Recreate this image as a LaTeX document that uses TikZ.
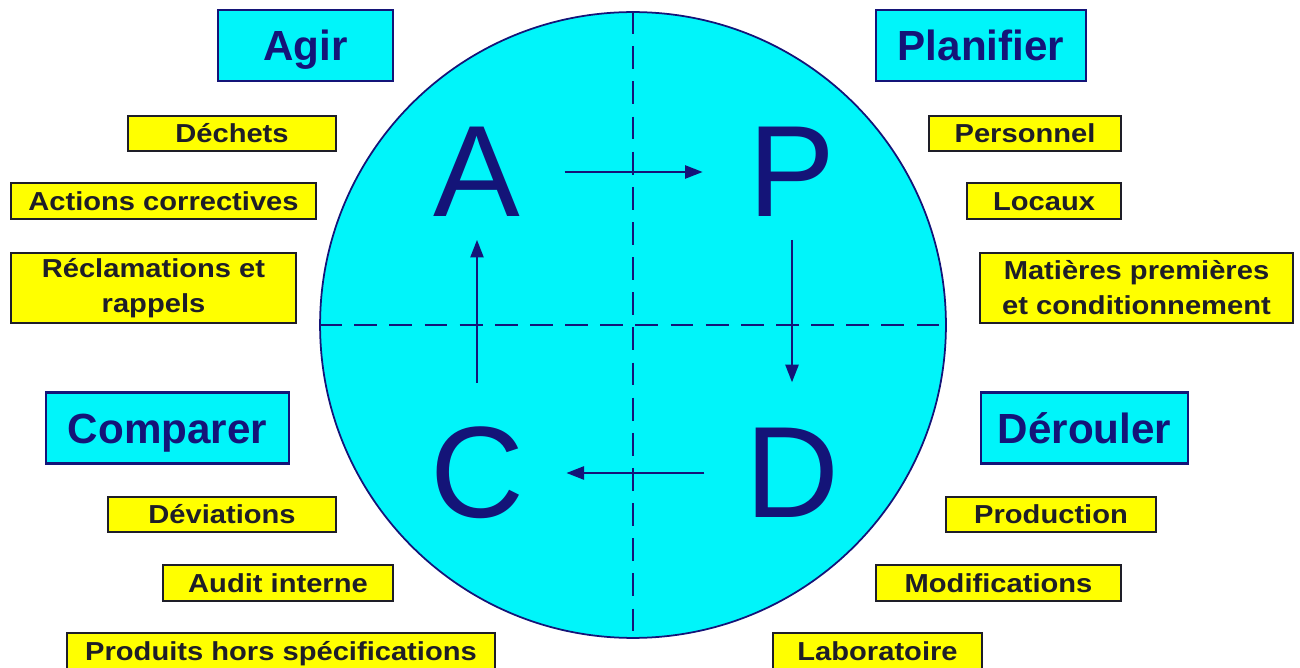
\documentclass[tikz,border=0pt]{standalone}
\usepackage{fontspec}
\setmainfont{Liberation Sans}
\newfontfamily\boxfont[FakeStretch=1.12]{Liberation Sans}
\usetikzlibrary{arrows.meta}

\definecolor{navy}{RGB}{20,20,120}
\definecolor{ink}{RGB}{30,30,40}
\definecolor{aqua}{RGB}{0,245,250}
\definecolor{lemon}{RGB}{255,255,0}

\begin{document}
\begin{tikzpicture}[
    % GLOBAL CFG
    x=0.02cm, y=-0.02cm,
    >={Triangle[length=10pt, width=7.5pt]},
    % Styles
    wheel/.style={% The big circle
        circle,
        draw=navy,
        fill=aqua,
        line width=1pt,
        minimum size=12.52cm,
        inner sep=0pt,
        },
    axis/.style={% Dashed cross in the circle
        draw=navy,
        line width=1.2pt,
        dash pattern=on 13pt off 7pt,
        },
    letter/.style={% For the big letters
        text=navy,
        font=\fontsize{74}{74}\selectfont,
        inner sep=0pt,
        },
    phase/.style={% For the phase titles
        rectangle,
        draw=navy,
        fill=aqua,
        line width=1.2pt,
        text=navy,
        font=\fontsize{24}{28}\selectfont\bfseries,
        minimum height=1.42cm,
        text height=17.2pt,
        text depth=0pt,
        inner sep=0pt,
        },
    item/.style={% For the yellow items
        rectangle,
        draw=ink,
        fill=lemon,
        line width=1.2pt,
        text=ink,
        font=\boxfont\fontsize{14.8}{20}\selectfont\bfseries,
        minimum height=0.71cm,
        inner sep=0pt,
        align=center,
        },
    oneline/.style={% single line items
        text height=10.6pt,
        text depth=0pt,
        },
    cycle/.style={% Arrows between the letters
        ->,
        draw=navy,
        line width=1.1pt,
        },
    ]

    \useasboundingbox (0,0) rectangle (1300,668);

    % Draw the wheel
    \node [wheel] (wheel) at (633,325) {};
    \draw [axis] (wheel.north) -- (wheel.south);
    \draw [axis] (wheel.west) -- (wheel.east);

    % Draw the letters
    \node [letter] (A) at (477,172) {A};
    \node [letter] (P) at (792,172) {P};
    \node [letter] (C) at (477,473) {C};
    \node [letter] (D) at (792,473) {D};

    % Draw the cycle arrows
    \draw [cycle, shorten <=25pt, shorten >=26pt] (A) -- (P);
    \draw [cycle, shorten <=13pt, shorten >=26pt] (P) -- (D);
    \draw [cycle, shorten <=23pt, shorten >=24pt] (D) -- (C);
    \draw [cycle, shorten <=25pt, shorten >=13pt] (C) -- (A);

    % Draw the phase titles
    \node [phase, minimum width=3.5cm] (agir) at (305.5,45.5) {Agir};
    \node [phase, minimum width=4.2cm] (planifier) at (981,45.5) {Planifier};
    \node [phase, minimum width=4.86cm] (comparer) at (167.5,428) {Comparer};
    \node [phase, minimum width=4.14cm] (derouler) at (1084.5,428) {Dérouler};

    % Agir items
    \node [item, oneline, minimum width=4.16cm] (dechets) at (232,133.5) {Déchets};
    \node [item, oneline, minimum width=6.1cm] (actions) at (163.5,201) {Actions correctives};
    \node [item, minimum width=5.7cm, minimum height=1.4cm] (reclam) at (153.5,288) {Réclamations et\\rappels};

    % Planifier items
    \node [item, oneline, minimum width=3.84cm] (personnel) at (1025,133.5) {Personnel};
    \node [item, oneline, minimum width=3.08cm] (locaux) at (1044,201) {Locaux};
    \node [item, minimum width=6.26cm, minimum height=1.4cm] (matieres) at (1136.5,288) {Matières premières\\et conditionnement};

    % Comparer items
    \node [item, oneline, minimum width=4.56cm] (deviations) at (222,514.5) {Déviations};
    \node [item, oneline, minimum width=4.6cm] (audit) at (278,583) {Audit interne};
    \node [item, oneline, minimum width=8.56cm] (produits) at (281,651) {Produits hors spécifications};

    % Derouler items
    \node [item, oneline, minimum width=4.2cm] (production) at (1051,514.5) {Production};
    \node [item, oneline, minimum width=4.9cm] (modif) at (998.5,583) {Modifications};
    \node [item, oneline, minimum width=4.18cm] (labo) at (877.5,651) {Laboratoire};

\end{tikzpicture}
\end{document}
